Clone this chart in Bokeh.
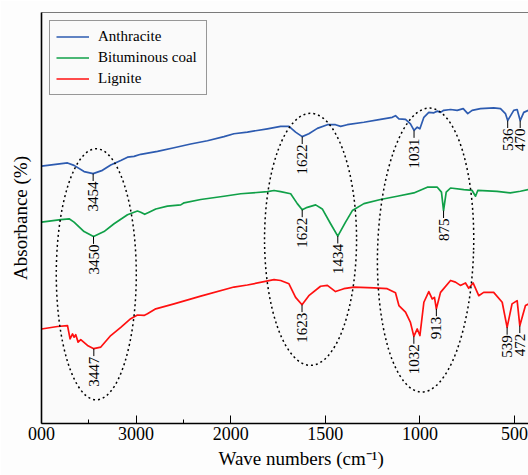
import numpy as np
from bokeh.plotting import figure
from bokeh.models import Range1d, FixedTicker, LinearAxis, Title
from bokeh.core.properties import value
from bokeh.embed import file_html
from bokeh.resources import INLINE

# ---------------- data (wavenumber in cm-1, relative absorbance) ----------------
anthracite_wn = [4000, 3725, 3656, 3550, 3454, 3356, 3268, 3162, 3091, 3022, 2951, 2774, 2599, 2423,
                 2246, 2071, 1983, 1912, 1806, 1736, 1692, 1657, 1622, 1587, 1542, 1489, 1446, 1419,
                 1384, 1296, 1208, 1146, 1129, 1111, 1076, 1050, 1031, 1014, 1000, 979, 953, 926,
                 908, 891, 874, 838, 803, 771, 747, 724, 680, 610, 574, 548, 536, 504, 486, 470, 451, 426]
anthracite_abs = [62.6, 63.4, 62.8, 61.3, 60.8, 61.6, 62.9, 64.0, 64.8, 65.0, 65.5, 66.2, 67.1, 68.0,
                  68.8, 69.8, 70.5, 70.9, 71.7, 72.3, 72.3, 70.9, 69.8, 70.5, 71.8, 72.7, 72.7, 72.3,
                  72.7, 73.3, 74.0, 74.5, 74.9, 74.1, 74.0, 72.9, 71.3, 72.1, 71.7, 74.5, 75.7, 75.6,
                  76.0, 75.7, 76.2, 76.4, 76.2, 76.6, 75.4, 76.2, 76.6, 76.8, 76.6, 75.4, 73.7, 76.2, 76.4, 73.7, 75.7, 76.2]
anthracite_peaks = [3454, 1622, 1031, 536, 470]

bituminous_wn = [4000, 3796, 3708, 3656, 3550, 3450, 3339, 3233, 3091, 2986, 2951, 2909, 2863, 2792,
                 2669, 2528, 2493, 2317, 2071, 1947, 1806, 1771, 1736, 1683, 1648, 1622, 1595, 1551,
                 1516, 1472, 1434, 1393, 1357, 1296, 1208, 1120, 1032, 961, 908, 886, 875, 861, 838,
                 768, 724, 706, 694, 592, 522, 469, 426]
bituminous_abs = [49.0, 49.6, 49.8, 49.0, 46.7, 45.5, 46.7, 48.6, 50.8, 51.7, 51.4, 50.9, 51.4, 52.2,
                  52.9, 53.2, 53.7, 54.5, 55.3, 55.9, 56.4, 56.7, 56.4, 55.9, 53.5, 52.0, 52.6, 53.2,
                  52.2, 48.6, 45.6, 49.0, 51.8, 53.5, 54.5, 55.3, 56.1, 57.5, 57.5, 56.3, 51.8, 56.3, 57.3,
                  56.9, 56.7, 55.3, 56.7, 56.5, 56.1, 56.5, 56.9]
bituminous_peaks = [3450, 1622, 1434, 875]

lignite_wn = [4000, 3831, 3725, 3698, 3672, 3656, 3638, 3613, 3585, 3514, 3447, 3373, 3268, 3162,
              3057, 2986, 2916, 2880, 2792, 2599, 2317, 1983, 1912, 1771, 1736, 1692, 1657, 1623,
              1587, 1525, 1489, 1446, 1402, 1349, 1243, 1173, 1129, 1111, 1076, 1050, 1032, 1014,
              1000, 979, 953, 935, 923, 913, 891, 838, 812, 786, 759, 742, 719, 689, 663, 610,
              565, 539, 513, 486, 472, 442, 426]
lignite_abs = [23.0, 23.6, 23.8, 20.6, 21.8, 21.0, 21.6, 19.8, 20.4, 19.0, 18.2, 18.6, 21.4, 23.4,
               25.5, 26.4, 26.3, 26.7, 27.9, 29.1, 31.0, 33.2, 33.7, 35.0, 34.8, 34.0, 30.7, 28.9,
               31.1, 33.4, 33.6, 32.1, 32.8, 33.2, 33.0, 32.8, 31.8, 28.7, 27.1, 24.6, 21.2, 23.0,
               21.4, 29.5, 32.1, 30.3, 30.7, 27.9, 31.9, 34.8, 34.4, 33.6, 34.2, 32.9, 34.2, 31.1,
               31.9, 31.9, 29.5, 23.4, 29.1, 29.9, 23.8, 28.7, 29.1]
lignite_peaks = [3447, 1623, 1032, 913, 539, 472]

series_names = ["Anthracite", "Bituminous coal", "Lignite"]
series_colors = ["#2d5bb0", "#10a048", "#ff1010"]

tick_wn = [4000, 3000, 2000, 1500, 1000, 500]
tick_labels = ["000", "3000", "2000", "1500", "1000", "500"]
minor_tick_wn = [3500, 2500]
wn_start, wn_end = 4000, 426

# dotted ellipses grouping the bands (centre wavenumber / absorbance)
ellipse_wn = [3421, 1578, 970]
ellipse_abs = [36.3, 44.8, 42.2]
ellipse_w_px = [80, 92, 96]
ellipse_h_px = [251, 252, 284]
ellipse_angle = [0.0, 0.0, -0.03]


def to_axis(w):
    """FTIR axis with scale change at 2000 cm-1 (4000-2000 compressed by 2)."""
    w = np.asarray(w, dtype=float)
    return np.where(w > 2000, 2000 + (w - 2000) / 2.0, w)


SERIF = "Liberation Serif"

p = figure(width=528, height=475, output_backend="svg", toolbar_location=None,
           x_range=Range1d(float(to_axis(wn_start)), float(to_axis(wn_end))),
           y_range=Range1d(0, 100),
           min_border_left=41, min_border_right=0, min_border_top=12, min_border_bottom=52)

p.background_fill_color = "#fafafa"
p.border_fill_color = "#fdfdfd"
p.outline_line_color = None
p.xgrid.visible = False
p.ygrid.visible = False

# x axis
xa = p.xaxis[0]
xa.ticker = FixedTicker(ticks=to_axis(tick_wn).tolist(), minor_ticks=to_axis(minor_tick_wn).tolist())
xa.major_label_overrides = {float(t): lab for t, lab in zip(to_axis(tick_wn), tick_labels)}
xa.major_label_text_font = SERIF
xa.major_label_text_font_size = "18px"
xa.major_label_text_color = "black"
xa.major_label_standoff = 3
xa.major_tick_in = 8
xa.major_tick_out = 0
xa.minor_tick_in = 4
xa.minor_tick_out = 0
xa.axis_line_width = 1.6
xa.axis_line_color = "black"
xa.major_tick_line_color = "black"
xa.minor_tick_line_color = "black"

# y axis (no ticks)
ya = p.yaxis[0]
ya.ticker = FixedTicker(ticks=[])
ya.major_tick_line_color = None
ya.minor_tick_line_color = None
ya.major_label_standoff = 0
ya.major_tick_out = 0
ya.axis_line_width = 1.6
ya.axis_line_color = "black"
ya.axis_label = "Absorbance (%)"
ya.axis_label_text_font = SERIF
ya.axis_label_text_font_size = "19px"
ya.axis_label_text_font_style = "normal"
ya.axis_label_text_color = "black"
ya.axis_label_standoff = 11

# top frame line
top_axis = LinearAxis(ticker=FixedTicker(ticks=[]), major_tick_line_color=None,
                      minor_tick_line_color=None, major_label_standoff=0,
                      axis_line_color="#7a7a7a", axis_line_width=1)
p.add_layout(top_axis, "above")

# spectra
all_series = [(anthracite_wn, anthracite_abs, anthracite_peaks),
              (bituminous_wn, bituminous_abs, bituminous_peaks),
              (lignite_wn, lignite_abs, lignite_peaks)]

for (wn, ab, peaks), name, col in zip(all_series, series_names, series_colors):
    p.line(to_axis(wn), ab, line_color=col, line_width=1.7, line_join="round", legend_label=name)

# peak annotations
for wn, ab, peaks in all_series:
    py = np.interp(peaks, np.asarray(wn[::-1], float), np.asarray(ab[::-1], float))
    px = to_axis(peaks)
    p.segment(x0=px, y0=py, x1=px, y1=py - 1.8, line_color="black", line_width=1)
    p.text(x=px, y=py, text=[str(k) for k in peaks], angle=np.pi / 2,
           text_align="right", text_baseline="middle", y_offset=8,
           text_font=value(SERIF), text_font_size="15px", text_color="black")

# dotted ellipses
p.ellipse(x=to_axis(ellipse_wn), y=ellipse_abs, width=ellipse_w_px, height=ellipse_h_px,
          width_units="screen", height_units="screen", angle=ellipse_angle,
          fill_color=None, line_color="black", line_width=1.5, line_dash="2 3")

# x axis title (placed as a below-title so it can sit right of centre like the reference)
p.add_layout(Title(text="Wave numbers (cm\u207b\u00b9)", align="left", offset=177,
                   text_font=SERIF, text_font_size="19px", text_font_style="normal",
                   text_color="black", standoff=7, vertical_align="bottom"), "below")

# legend
lg = p.legend[0]
lg.location = "top_left"
lg.margin = 8
lg.padding = 6
lg.spacing = 2
lg.glyph_width = 33
lg.glyph_height = 19
lg.label_standoff = 9
lg.label_width = 102
lg.label_text_font = SERIF
lg.label_text_font_size = "15px"
lg.label_text_color = "black"
lg.border_line_color = "#333333"
lg.border_line_width = 1
lg.background_fill_color = "#fafafa"
lg.background_fill_alpha = 1.0

open("out.html", "w").write(file_html(p, INLINE))
